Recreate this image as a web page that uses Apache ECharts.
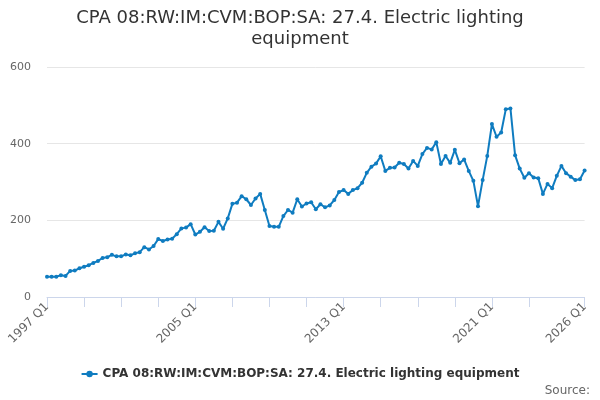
<!DOCTYPE html>
<html>
<head>
<meta charset="utf-8">
<script src="https://cdn.jsdelivr.net/npm/echarts@6/dist/echarts.min.js"></script>
<style>
html,body{margin:0;padding:0;background:#fff;}
#chart{width:600px;height:400px;}
</style>
</head>
<body>
<div id="chart"></div>
<script>
const seriesName = 'CPA 08:RW:IM:CVM:BOP:SA: 27.4. Electric lighting equipment';
const titleText = 'CPA 08:RW:IM:CVM:BOP:SA: 27.4. Electric lighting\nequipment';
const firstYear = 1997;
const lastYear = 2026;
const categories = [];
for (let y = firstYear; y <= lastYear; y++) {
  for (let q = 1; q <= 4; q++) {
    if (y === lastYear && q > 1) break;
    categories.push(y + ' Q' + q);
  }
}
const values = [
  53, 53, 53, 57, 55, 68, 69, 75, 79, 83,
  89, 94, 102, 104, 110, 106, 106, 111, 109, 114,
  117, 130, 124, 133, 151, 146, 150, 152, 164, 179,
  181, 190, 163, 170, 182, 172, 173, 196, 178, 205,
  243, 246, 263, 255, 240, 257, 269, 227, 185, 183,
  183, 211, 227, 220, 255, 236, 244, 247, 229, 242,
  234, 239, 253, 274, 279, 269, 279, 284, 298, 324,
  340, 348, 367, 329, 337, 338, 350, 347, 335, 355,
  342, 373, 389, 385, 404, 347, 368, 350, 384, 349,
  359, 329, 303, 237, 305, 368, 451, 418, 429, 490,
  492, 370, 335, 311, 323, 312, 310, 269, 295, 284,
  316, 342, 323, 314, 305, 307, 330
];
const yTicks = [0, 200, 400, 600];
const sourceText = 'Source:';

const lastIdx = categories.length - 1;
const chart = echarts.init(document.getElementById('chart'), null, {renderer: 'canvas'});
chart.setOption({
  animation: false,
  backgroundColor: '#ffffff',
  textStyle: {fontFamily: 'DejaVu Sans'},
  title: [{
    text: titleText,
    left: 'center',
    top: 3,
    textStyle: {fontFamily: 'DejaVu Sans', fontSize: 18, fontWeight: 'normal', color: '#333333', lineHeight: 21}
  }, {
    text: sourceText,
    right: 5,
    bottom: -2,
    textStyle: {fontFamily: 'DejaVu Sans', fontSize: 12, fontWeight: 'normal', color: '#666666'}
  }],
  legend: {
    bottom: 15,
    left: 'center',
    itemWidth: 16,
    itemHeight: 8,
    itemGap: 10,
    textStyle: {fontFamily: 'DejaVu Sans', fontSize: 12, fontWeight: 'bold', color: '#333333'},
    data: [seriesName]
  },
  grid: {left: 47, right: 15.4, top: 67, bottom: 103, containLabel: false},
  xAxis: {
    type: 'category',
    data: categories,
    boundaryGap: false,
    axisLine: {lineStyle: {color: '#ccd6eb', width: 1}},
    axisTick: {
      show: true,
      length: 10,
      lineStyle: {color: '#ccd6eb'},
      interval: function (i) { return (i % 8 === 0 && i <= lastIdx - 12) || i === lastIdx; }
    },
    axisLabel: {
      rotate: 45,
      color: '#666666',
      fontSize: 12,
      margin: 8,
      interval: function (i) { return i % 32 === 0 || i === lastIdx; }
    },
    splitLine: {show: false}
  },
  yAxis: {
    type: 'value',
    min: yTicks[0],
    max: yTicks[yTicks.length - 1],
    interval: 200,
    axisLine: {show: false},
    axisTick: {show: false},
    axisLabel: {color: '#666666', fontSize: 11, margin: 16},
    splitLine: {lineStyle: {color: '#e6e6e6', width: 1}}
  },
  series: [{
    name: seriesName,
    type: 'line',
    data: values,
    color: '#0f7cc0',
    lineStyle: {width: 2},
    symbol: 'circle',
    symbolSize: 4,
    showSymbol: true,
    showAllSymbol: true
  }]
});
</script>
</body>
</html>
